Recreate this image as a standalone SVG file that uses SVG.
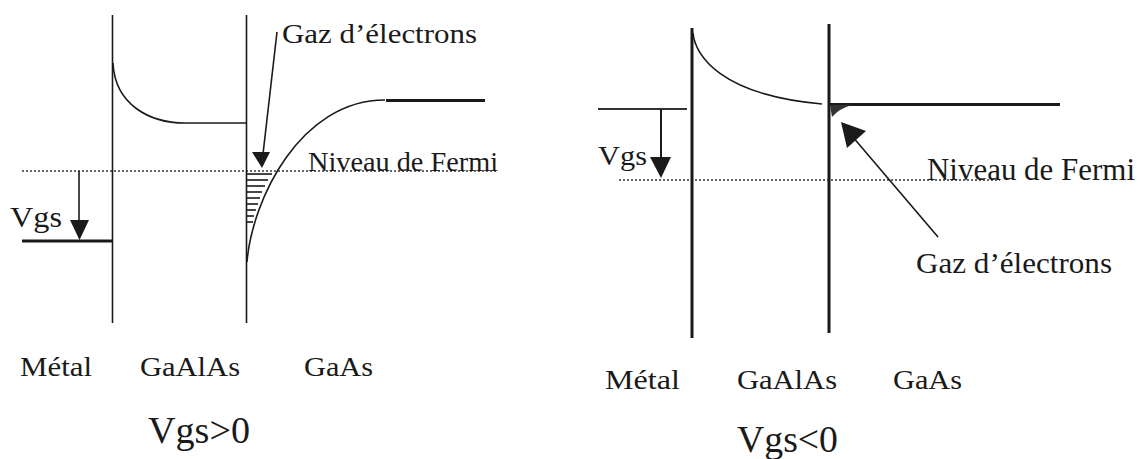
<svg xmlns="http://www.w3.org/2000/svg" width="1144" height="459" viewBox="0 0 1144 459">
<style>
text{font-family:"Liberation Serif","Times New Roman",serif;fill:#1a1a1a}
.ln{stroke:#1a1a1a;fill:none;stroke-width:1.6}
.thk{stroke:#1a1a1a;fill:none;stroke-width:3}
.dot{stroke:#333;stroke-width:1.6;stroke-dasharray:2 2;fill:none}
.lbl{font-size:28px}
.big{font-size:38px}
.ah{fill:#1a1a1a}
</style>
<rect width="1144" height="459" fill="#fff"/>
<g id="left-diagram">
  <line class="dot" x1="22" y1="171" x2="497" y2="171"/>
  <line class="ln" x1="112.5" y1="15" x2="112.5" y2="323"/>
  <line class="ln" x1="246.5" y1="15" x2="246.5" y2="323"/>
  <path class="ln" d="M113 63 C115 105 150 123 185 123 L246 123"/>
  <path class="ln" d="M247 262 C252 200 300 100 385 100"/>
  <line class="thk" x1="386" y1="100.5" x2="485" y2="100.5"/>
  <line class="thk" x1="22" y1="241" x2="113" y2="241"/>
  <g id="hatch-left" stroke="#1a1a1a" stroke-width="1.6">
    <line x1="247" y1="174" x2="272" y2="174"/>
    <line x1="247" y1="180" x2="268" y2="180"/>
    <line x1="247" y1="186" x2="265" y2="186"/>
    <line x1="247" y1="192" x2="262" y2="192"/>
    <line x1="247" y1="198" x2="260" y2="198"/>
    <line x1="247" y1="204" x2="258" y2="204"/>
    <line x1="247" y1="210" x2="256" y2="210"/>
    <line x1="247" y1="216" x2="254" y2="216"/>
    <line x1="247" y1="222" x2="253" y2="222"/>
  </g>
  <text x="10" y="227" style="font-size:29px" textLength="52" lengthAdjust="spacingAndGlyphs">Vgs</text>
  <text x="282" y="43" style="font-size:28px" textLength="195" lengthAdjust="spacingAndGlyphs">Gaz d’électrons</text>
  <text x="308" y="171" style="font-size:28px" textLength="190" lengthAdjust="spacingAndGlyphs">Niveau de Fermi</text>
  <text class="lbl" x="20" y="376" textLength="72" lengthAdjust="spacingAndGlyphs">Métal</text>
  <text class="lbl" x="140" y="376" textLength="100" lengthAdjust="spacingAndGlyphs">GaAlAs</text>
  <text class="lbl" x="304" y="376" textLength="69" lengthAdjust="spacingAndGlyphs">GaAs</text>
  <text class="big" x="148" y="443" textLength="102" lengthAdjust="spacingAndGlyphs">Vgs&gt;0</text>
</g>
<g id="right-diagram">
  <line class="dot" x1="619" y1="180" x2="1000" y2="180"/>
  <line class="thk" x1="692" y1="28" x2="692" y2="338"/>
  <line class="thk" x1="829" y1="24" x2="829" y2="333"/>
  <path class="ln" d="M693 33 C695 55 720 95 822 104"/>
  <line class="thk" x1="829" y1="104.5" x2="1060" y2="104.5"/>
  <line x1="598" y1="109" x2="687" y2="109" stroke="#333" stroke-width="2"/>
  <path d="M830 105 L852 105 Q840 108 832 117 Z" fill="#333"/>
  <text x="598" y="165" style="font-size:28px" textLength="49" lengthAdjust="spacingAndGlyphs">Vgs</text>
  <text x="927" y="180" style="font-size:31px" textLength="208" lengthAdjust="spacingAndGlyphs">Niveau de Fermi</text>
  <text x="916" y="273" style="font-size:30px" textLength="196" lengthAdjust="spacingAndGlyphs">Gaz d’électrons</text>
  <text class="lbl" x="605" y="389" textLength="75" lengthAdjust="spacingAndGlyphs">Métal</text>
  <text class="lbl" x="737" y="389" textLength="100" lengthAdjust="spacingAndGlyphs">GaAlAs</text>
  <text class="lbl" x="893" y="389" textLength="69" lengthAdjust="spacingAndGlyphs">GaAs</text>
  <text class="big" x="737" y="452" textLength="101" lengthAdjust="spacingAndGlyphs">Vgs&lt;0</text>
</g>
<g id="connectors">
  <line class="ln" x1="79" y1="171" x2="79" y2="222"/>
  <polygon class="ah" points="70,220 89,220 79.5,240"/>
  <line class="ln" x1="277" y1="32" x2="263" y2="154"/>
  <polygon class="ah" points="252,152 270,152 262,168"/>
  <line x1="661" y1="109" x2="661" y2="160" stroke="#1a1a1a" stroke-width="2"/>
  <polygon class="ah" points="650,157 671,157 661,178"/>
  <line class="ln" x1="938" y1="237" x2="852" y2="136"/>
  <polygon class="ah" points="841,122 847,148 866,131"/>
</g>
</svg>
